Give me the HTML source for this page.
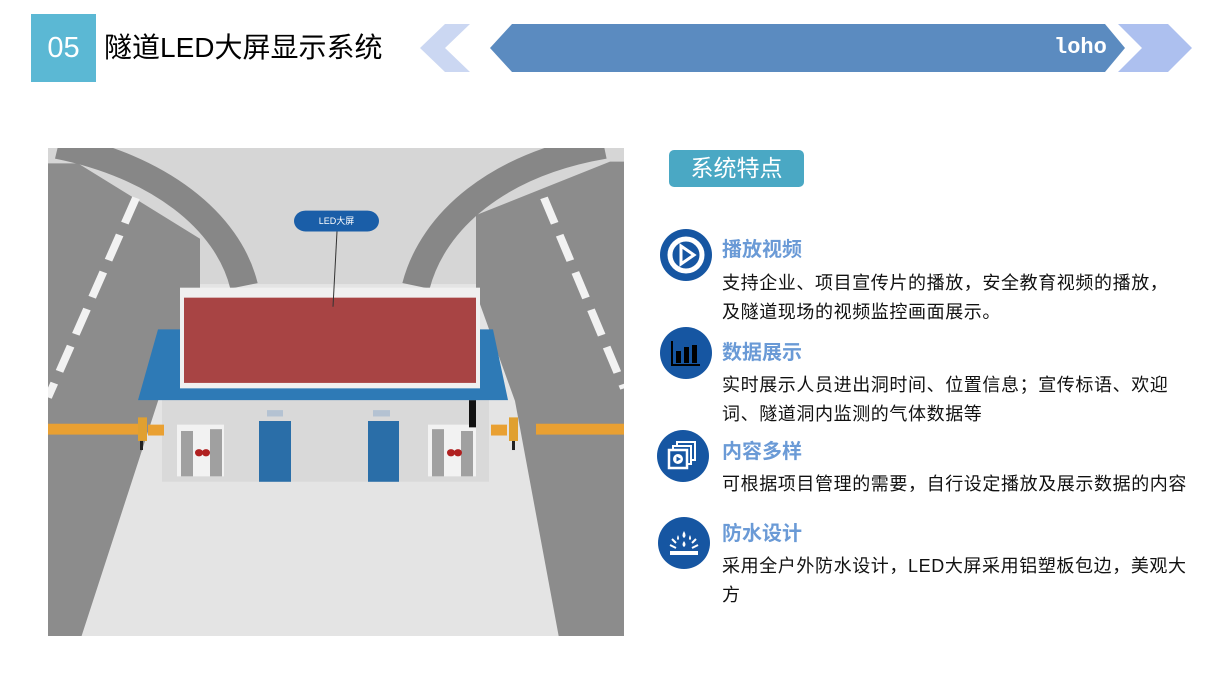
<!DOCTYPE html>
<html><head><meta charset="utf-8"><style>
*{margin:0;padding:0;box-sizing:border-box}
body{width:1216px;height:685px;background:#fff;position:relative;overflow:hidden;font-family:"Liberation Sans","Noto Sans CJK SC",sans-serif}
.abs{position:absolute}
.t{position:absolute;left:722px;color:#6a9ad6;font-weight:bold;font-size:20px;line-height:24px;white-space:nowrap}
.b{position:absolute;left:722px;color:#111;font-size:18px;letter-spacing:0.6px;line-height:29px;white-space:nowrap}
.ic{position:absolute;width:52px;height:52px;border-radius:50%;background:#1656a2}
</style></head><body>
<div class="abs" style="left:31px;top:14px;width:65px;height:68px;background:#5bb8d4;color:#fff;font-size:29px;line-height:68px;text-align:center">05</div>
<div class="abs" style="left:104px;top:30px;font-size:28px;line-height:36px;color:#000;white-space:nowrap">隧道LED大屏显示系统</div>
<svg class="abs" style="left:0;top:0" width="1216" height="100">
<polygon points="445,24 470,24 445,48 470,72 445,72 420,48" fill="#cbd7f2"/>
<polygon points="1118,24 1168,24 1192,48 1168,72 1118,72 1142,48" fill="#adc0ef"/>
<polygon points="512,24 1105,24 1125,48 1105,72 512,72 490,48" fill="#5b8bc0"/>
</svg>
<div class="abs" style="left:1054px;top:35px;font-family:'Liberation Mono',monospace;font-weight:bold;font-size:22px;color:#fff">loho</div>

<svg class="abs" style="left:48px;top:148px" width="576" height="488" viewBox="0 0 576 488">
<rect width="576" height="488" fill="#d6d6d6"/>
<g transform="scale(1,0.907)">
<rect y="150" width="576" height="400" fill="#e4e4e4"/>
<polygon points="0,17 30,17 152,100 152,160 110,279 33,540 0,540" fill="#8c8c8c"/>
<polygon points="562,15 576,15 576,540 511,540 467,279 428,160 428,74" fill="#8c8c8c"/>
<path d="M10,-2 C110,20 180,80 196,152" stroke="#878787" stroke-width="28" fill="none"/>
<path d="M556,-2 C450,18 385,80 368,152" stroke="#878787" stroke-width="28" fill="none"/>
<path d="M88,55 L0,275" stroke="#f2f2f2" stroke-width="8" stroke-dasharray="30,14" fill="none"/>
<path d="M496,55 L576,265" stroke="#f2f2f2" stroke-width="8" stroke-dasharray="30,14" fill="none"/>
<rect x="114" y="276" width="327" height="92" fill="#d9d9d9"/>
<rect x="129" y="305" width="47" height="57" fill="#f2f2f2"/>
<rect x="380" y="305" width="48" height="57" fill="#f2f2f2"/>
<rect x="133" y="312" width="12" height="50" fill="#a0a0a0"/><rect x="162" y="310" width="12" height="52" fill="#a0a0a0"/>
<rect x="384" y="310" width="12" height="52" fill="#a0a0a0"/><rect x="413" y="312" width="12" height="50" fill="#a0a0a0"/>
<circle cx="151" cy="336" r="4" fill="#b02020"/><circle cx="158" cy="336" r="4" fill="#b02020"/>
<circle cx="403" cy="336" r="4" fill="#b02020"/><circle cx="410" cy="336" r="4" fill="#b02020"/>
<rect x="211" y="301" width="32" height="67" fill="#2a6ea8"/>
<rect x="320" y="301" width="31" height="67" fill="#2a6ea8"/>
<rect x="219" y="289" width="16" height="7" fill="#b4c2d2"/>
<rect x="325" y="289" width="17" height="7" fill="#b4c2d2"/>
<rect x="421" y="278" width="7" height="30" fill="#111"/>
<polygon points="110,200 445,200 460,278 90,278" fill="#2e7ab6"/>
<rect x="132" y="154" width="300" height="111" fill="#f0f0f0"/>
<rect x="136" y="165" width="292" height="94" fill="#a84444"/>
<rect x="0" y="304" width="90" height="12" fill="#e9a032"/>
<rect x="100" y="305" width="16" height="12" fill="#e9a032"/>
<rect x="90" y="297" width="9" height="26" fill="#e0a030"/><rect x="92" y="323" width="3" height="10" fill="#222"/>
<rect x="488" y="304" width="88" height="12" fill="#e9a032"/>
<rect x="443" y="305" width="16" height="12" fill="#e9a032"/>
<rect x="461" y="297" width="9" height="26" fill="#e0a030"/><rect x="464" y="323" width="3" height="10" fill="#222"/>
<line x1="289" y1="92" x2="285" y2="175" stroke="#333" stroke-width="1"/>
<rect x="246" y="69" width="85" height="23" rx="11.5" fill="#1a5ea8"/>
</g>
<text x="288.5" y="76" font-size="9" fill="#fff" text-anchor="middle" font-family="Liberation Sans,Noto Sans CJK SC,sans-serif">LED大屏</text>
</svg>

<div class="abs" style="left:669px;top:150px;width:135px;height:37px;border-radius:5px;background:#4aa8c4;color:#fff;font-size:23px;line-height:37px;text-align:center">系统特点</div>

<div class="ic" style="left:660px;top:229px"></div>
<svg class="abs" style="left:660px;top:229px" width="52" height="52"><circle cx="26" cy="26" r="16" fill="none" stroke="#fff" stroke-width="5"/><polygon points="21,17 21,35 34,26" fill="#1656a2" stroke="#fff" stroke-width="3"/></svg>
<div class="t" style="top:238px">播放视频</div>
<div class="b" style="top:269px">支持企业、项目宣传片的播放，安全教育视频的播放，<br>及隧道现场的视频监控画面展示。</div>

<div class="ic" style="left:660px;top:327px"></div>
<svg class="abs" style="left:660px;top:327px" width="52" height="52"><path d="M12,14 V38 H40" stroke="#000" stroke-width="2" fill="none"/><rect x="16" y="24" width="5" height="12" fill="#000"/><rect x="24" y="20" width="5" height="16" fill="#000"/><rect x="32" y="18" width="5" height="18" fill="#000"/></svg>
<div class="t" style="top:341px">数据展示</div>
<div class="b" style="top:371px">实时展示人员进出洞时间、位置信息；宣传标语、欢迎<br>词、隧道洞内监测的气体数据等</div>

<div class="ic" style="left:657px;top:430px"></div>
<svg class="abs" style="left:657px;top:430px" width="52" height="52"><rect x="20" y="12" width="18" height="18" fill="none" stroke="#fff" stroke-width="2"/><rect x="16" y="16" width="18" height="18" fill="#1656a2" stroke="#fff" stroke-width="2"/><rect x="12" y="20" width="18" height="18" fill="#1656a2" stroke="#fff" stroke-width="2.5"/><circle cx="21" cy="29" r="5" fill="#fff"/><polygon points="19.5,26.5 19.5,31.5 24,29" fill="#1656a2"/></svg>
<div class="t" style="top:440px">内容多样</div>
<div class="b" style="top:470px">可根据项目管理的需要，自行设定播放及展示数据的内容</div>

<div class="ic" style="left:658px;top:517px"></div>
<svg class="abs" style="left:658px;top:517px" width="52" height="52"><rect x="12" y="34" width="28" height="4" fill="#fff"/><path d="M20,18 q2,4 0,5 q-2,-1 0,-5z M26,14 q3,5 0,7 q-3,-2 0,-7z M32,18 q2,4 0,5 q-2,-1 0,-5z M26,24 q3,4 0,6 q-3,-2 0,-6z" fill="#fff"/><path d="M12,28 l6,3 M40,28 l-6,3 M14,22 l4,4 M38,22 l-4,4" stroke="#fff" stroke-width="2"/></svg>
<div class="t" style="top:522px">防水设计</div>
<div class="b" style="top:552px">采用全户外防水设计，LED大屏采用铝塑板包边，美观大<br>方</div>
</body></html>
